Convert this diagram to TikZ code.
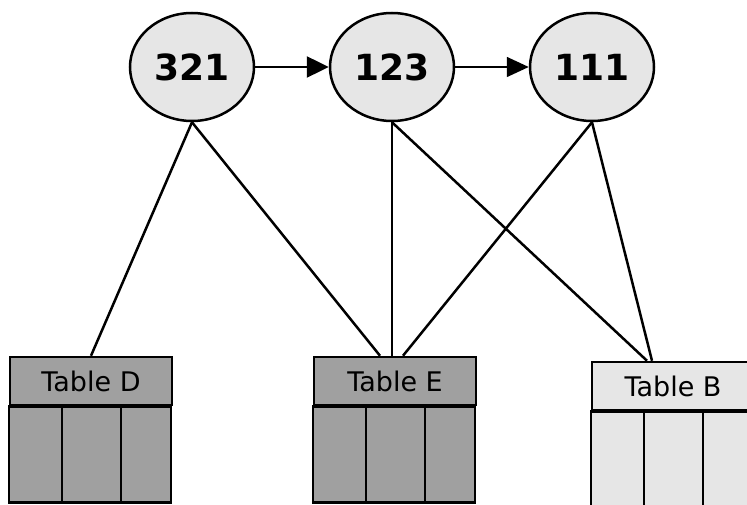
\documentclass[tikz,border=0pt]{standalone}
\usepackage{fontspec}
\setmainfont{DejaVu Sans}
\usetikzlibrary{arrows.meta,shapes.geometric}
\definecolor{lightfill}{HTML}{E6E6E6}
\definecolor{darkfill}{HTML}{A0A0A0}
\tikzset{
  keynode/.style={ellipse, draw, line width=2.5pt, fill=lightfill, inner sep=0pt,
    minimum width=124pt, minimum height=108pt, font=\fontsize{36}{40}\selectfont\bfseries},
  tabhead/.style={draw, line width=2.5pt, inner sep=0pt, minimum width=162pt,
    minimum height=48pt, font=\fontsize{27}{30}\selectfont},
  link/.style={line width=2.5pt},
}
\begin{document}
\begin{tikzpicture}[x=1pt,y=1pt]
    \useasboundingbox (0,0) rectangle (747,504);
    \clip (0,0) rectangle (747,504);
    % Keys
    \node [keynode] (e321) at (192,437) {321};
    \node [keynode] (e123) at (392,437) {123};
    \node [keynode] (e111) at (592,437) {111};
    \draw [line width=2.5pt, -{Triangle[length=22pt,width=21pt]}] (e321.east) -- (e123.west);
    \draw [line width=1.6pt, -{Triangle[length=22pt,width=20pt]}] (e123.east) -- (e111.west);
    % Tables
    \node [tabhead, fill=darkfill] (tabD) at (91,123) {Table D};
    \node [tabhead, fill=darkfill] (tabE) at (395,123) {Table E};
    \node [tabhead, fill=lightfill] (tabB) at (673,118) {Table B};
    \foreach \t/\c in {tabD/darkfill, tabE/darkfill, tabB/lightfill} {
      \draw [line width=2.5pt, fill=\c] (\t.south west) rectangle ++(162,-96);
      \draw [line width=2.5pt] ([xshift=53pt]\t.south west) -- ++(0,-96);
      \draw [line width=2.5pt] ([xshift=112pt]\t.south west) -- ++(0,-96);
    }
    % Links
    \draw [link] (e321.south) -- (tabD.north);
    \draw [link] (e321.south) -- ([xshift=-15pt]tabE.north);
    \draw [link] (e123.south) -- ([xshift=-3pt]tabE.north);
    \draw [link] (e123.south) -- ([xshift=-26pt]tabB.north);
    \draw [link] (e111.south) -- ([xshift=8pt]tabE.north);
    \draw [link] (e111.south) -- ([xshift=-21pt]tabB.north);
\end{tikzpicture}
\end{document}
